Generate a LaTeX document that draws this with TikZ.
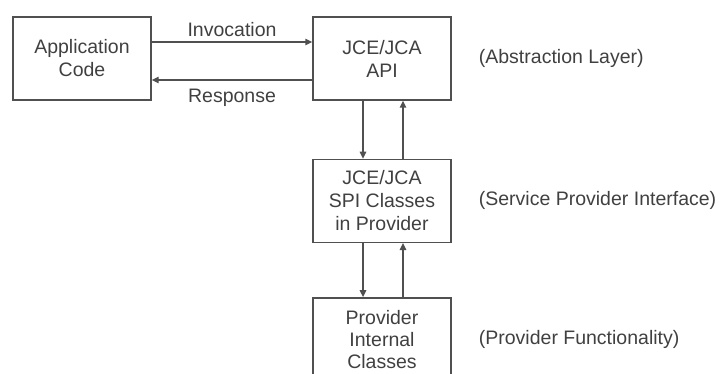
\documentclass[tikz,border=0pt]{standalone}
\usepackage{fontspec}
\setmainfont{Liberation Sans}
\usepackage{xcolor}
\usetikzlibrary{
    arrows.meta,
    positioning
}
\definecolor{linegray}{HTML}{505050}
\definecolor{textgray}{HTML}{404040}
\tikzset{
    layerbox/.style={
        rectangle,
        draw=linegray,
        line width=1.4pt,
        align=center,
        minimum height=83pt,
        minimum width=138pt,
        text=textgray,
        font=\fontsize{19.5}{23}\selectfont
    },
    arrow/.style={
        -{Triangle[length=7pt,width=6.5pt]},
        draw=linegray,
        line width=1.4pt
    },
    tag/.style={
        anchor=west,
        inner sep=0pt,
        text=textgray,
        font=\fontsize{19.5}{23}\selectfont
    }
}

\begin{document}
\begin{tikzpicture}[x=1pt, y=-1pt]
\useasboundingbox (0,0) rectangle (720,374);
\clip (0,0) rectangle (720,374);

\node[layerbox] (app) at (82,58.5) {Application\\Code};
\node[layerbox] (api) at (382,58.5) {JCE/JCA\\API};
\node[layerbox, below=58pt of api] (spi) {JCE/JCA\\SPI Classes\\in Provider};
\node[layerbox, minimum height=84pt, below=54pt of spi, font=\fontsize{19.5}{22}\selectfont] (prov) {Provider\\Internal\\Classes};

\node[tag, right=27pt of api] (abstr) {(Abstraction Layer)};
\node[tag, right=27pt of spi] (spiif) {(Service Provider Interface)};
\node[tag, right=27pt of prov] (func) {(Provider Functionality)};

\draw[arrow] ([yshift=16.5pt]app.east) -- node[above=1pt, text=textgray, font=\fontsize{19.5}{23}\selectfont] {Invocation} ([yshift=16.5pt]api.west);
\draw[arrow] ([yshift=-21.5pt]api.west) -- node[below=5pt, text=textgray, font=\fontsize{19.5}{23}\selectfont] {Response} ([yshift=-21.5pt]app.east);

\draw[arrow] ([xshift=-19pt]api.south) -- ([xshift=-19pt]spi.north);
\draw[arrow] ([xshift=21pt]spi.north) -- ([xshift=21pt]api.south);
\draw[arrow] ([xshift=-19pt]spi.south) -- ([xshift=-19pt]prov.north);
\draw[arrow] ([xshift=21pt]prov.north) -- ([xshift=21pt]spi.south);

\end{tikzpicture}
\end{document}
